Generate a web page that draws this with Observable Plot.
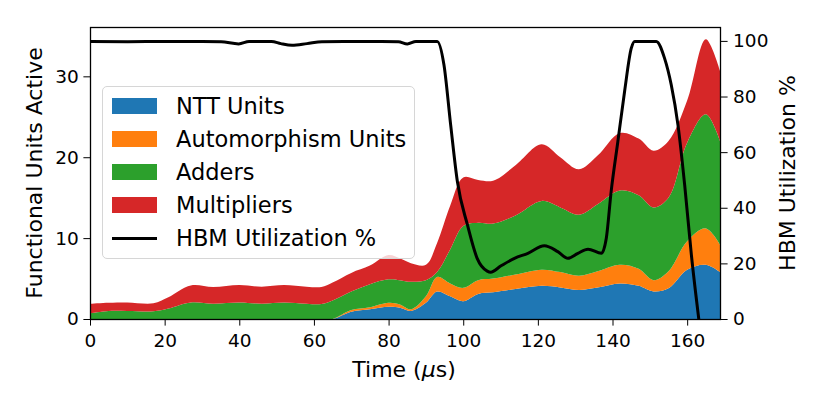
<!DOCTYPE html>
<html><head><meta charset="utf-8">
<script src="https://cdn.jsdelivr.net/npm/d3@7"></script>
<script src="https://cdn.jsdelivr.net/npm/@observablehq/plot@0.6"></script>
<style>
body{margin:0;background:#fff;}
#wrap{position:relative;width:822px;height:411px;font-family:"DejaVu Sans";}
.legend{position:absolute;left:102px;top:86px;width:313px;height:173px;border:1px solid #d6d6d6;border-radius:5px;background:rgba(255,255,255,0.8);box-sizing:border-box;}
.entry{position:absolute;left:0;height:33px;width:100%;}
.sw{position:absolute;left:9px;width:45px;height:16px;}
.ln{position:absolute;left:9px;width:45px;height:3px;background:#000;}
.lab{position:absolute;left:73px;font-size:22.5px;line-height:22px;color:#000;white-space:nowrap;}
</style></head><body><div id="wrap"></div>
<script>
// ---- data ----
const seriesNames = ["NTT Units", "Automorphism Units", "Adders", "Multipliers"];
const seriesColors = ["#1f77b4", "#ff7f0e", "#2ca02c", "#d62728"];
const times = [0,5,10,17,21,27,33,40,46,52,58,62,65,70,75,80,83,86,90,93,96.5,100,104,108,114,121,126,131,136,142,147,151,155,160,165,168.8];
const nttUnits = [0,0,0,0,0,0,0,0,0,0,0,0,0,0.9,1.2,1.5,1.4,1.0,2.0,3.4,2.8,2.2,3.1,3.3,3.7,4.1,3.9,3.6,3.9,4.4,4.1,3.4,3.8,6.1,6.7,5.8];
const automorphismUnits = [0,0,0,0,0,0,0,0,0,0,0,0,0,0.2,0.25,0.5,0.4,0.2,0.8,1.8,1.6,1.65,1.7,1.7,1.8,2.0,1.9,1.75,2.0,2.3,2.1,1.4,2.1,3.5,4.5,3.4];
const adders = [0.7,1.0,1.0,0.95,1.3,2.05,1.9,2.05,1.9,2.05,1.9,1.85,2.3,2.3,2.85,2.9,3.0,3.4,2.0,0.6,4.2,7.65,7.1,6.8,7.3,8.5,8.0,7.55,8.3,9.2,9.1,9.0,9.1,12.2,14.1,12.8];
const multipliers = [1.17,1.0,1.05,1.0,1.4,2.1,2.05,2.15,2.1,2.15,2.1,2.1,2.2,2.3,2.3,3.0,2.7,2.3,1.9,3.6,5.4,6.0,5.3,5.3,6.2,7.0,6.2,5.6,6.0,7.1,7.0,7.0,7.0,5.2,9.3,8.7];
const hbmTime = [0,10,20,30,35,39.7,42.5,48.5,51,54,58,62,70,78,82.5,84.9,87.2,92.9,94.7,96.5,98.3,101,103.6,106.3,107.2,110,113.6,117.2,121.6,125.2,127.9,130.6,133.3,136.9,138.2,139.5,141.3,143.1,144.9,145.8,151.6,153.8,155.6,157.4,159.2,161,163];
const hbmUtil = [100,99.9,100,100,99.9,99.1,100,100,99.2,98.6,99.2,99.9,100,100,99.9,99.1,100,100,91.6,70,49.6,34,22,17.4,17,19.3,22,23.8,26.5,24.4,22,23.8,25.3,23.8,29.2,46,64,82,97.6,100,100,94,84.4,70,48.4,23.2,0];
const xTicks = [0,20,40,60,80,100,120,140,160];
const leftTicks = [0,10,20,30];
const rightTicks = [0,20,40,60,80,100];
const xMax = 168.8, leftMax = 36.1, rightMax = 105;

// ---- build ----
const k = leftMax / rightMax;
const seriesValues = [nttUnits, automorphismUnits, adders, multipliers];
const rows = [];
seriesNames.forEach((s, i) => times.forEach((t, j) => rows.push({t, v: seriesValues[i][j], s})));
const hbm = hbmTime.map((t, i) => ({t, u: hbmUtil[i]}));

const plot = Plot.plot({
  width: 822, height: 411,
  marginLeft: 90, marginRight: 102, marginTop: 27, marginBottom: 92,
  x: {domain: [0, xMax]},
  y: {domain: [0, leftMax]},
  color: {domain: seriesNames, range: seriesColors},
  style: {fontFamily: "DejaVu Sans", fontSize: "18.5px", color: "black", background: "white", overflow: "visible"},
  marks: [
    Plot.areaY(rows, {x: "t", y: "v", fill: "s", curve: "catmull-rom", clip: true}),
    Plot.lineY(hbm, {x: "t", y: d => d.u * k, stroke: "black", strokeWidth: 3, curve: "monotone-x", clip: true}),
    Plot.frame({stroke: "black", strokeWidth: 1.3}),
    Plot.axisX({ticks: xTicks, tickSize: 6.6, tickPadding: 8, label: null, tickFormat: d => String(d)}),
    Plot.axisY({ticks: leftTicks, tickSize: 6.6, tickPadding: 5, label: null, tickFormat: d => String(d)}),
    Plot.axisY({anchor: "right", ticks: rightTicks.map(v => v * k), tickSize: 6.6, tickPadding: 6, label: null, tickFormat: d => String(Math.round(d / k))})
  ]
});
const wrap = document.getElementById("wrap");
wrap.appendChild(plot);

const svg = d3.select(plot);
const xl = svg.append("text").attr("x", 404).attr("y", 377).attr("text-anchor", "middle")
  .attr("font-size", "22px").attr("fill", "black");
xl.append("tspan").text("Time (");
xl.append("tspan").attr("font-style", "italic").text("μ");
xl.append("tspan").text("s)");
svg.append("text").attr("transform", "translate(42,173) rotate(-90)").attr("text-anchor", "middle")
  .attr("font-size", "22px").attr("fill", "black").text("Functional Units Active");
svg.append("text").attr("transform", "translate(795,173) rotate(-90)").attr("text-anchor", "middle")
  .attr("font-size", "22px").attr("fill", "black").text("HBM Utilization %");

// ---- legend ----
const lg = document.createElement("div");
lg.className = "legend";
const entries = seriesNames.map((n, i) => ({n, c: seriesColors[i], line: false})).concat([{n: "HBM Utilization %", c: "#000", line: true}]);
entries.forEach((e, i) => {
  const row = document.createElement("div");
  row.className = "entry";
  row.style.top = (19 + 33 * i - 16) + "px";
  const sw = document.createElement("div");
  if (e.line) { sw.className = "ln"; sw.style.top = "14.5px"; }
  else { sw.className = "sw"; sw.style.top = "8px"; sw.style.background = e.c; }
  const lab = document.createElement("div");
  lab.className = "lab";
  lab.style.top = "5px";
  lab.textContent = e.n;
  row.appendChild(sw); row.appendChild(lab);
  lg.appendChild(row);
});
wrap.appendChild(lg);
</script></body></html>
